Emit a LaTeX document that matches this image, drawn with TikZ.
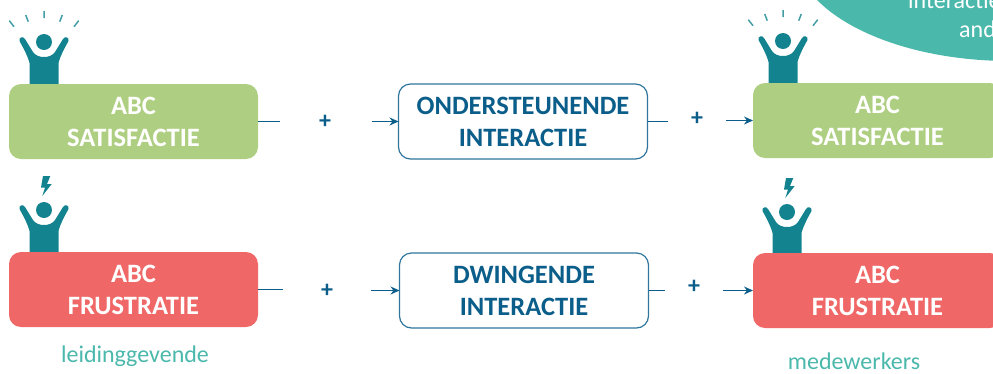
\documentclass[tikz,border=0pt]{standalone}
\usepackage{fontspec}
\setmainfont{Carlito}
\usetikzlibrary{arrows.meta}
\definecolor{satgreen}{HTML}{AECF82}
\definecolor{frusred}{HTML}{F06767}
\definecolor{interblue}{HTML}{0B5E8A}
\definecolor{personteal}{HTML}{13848F}
\definecolor{labelteal}{HTML}{4BB8AC}
\begin{document}
\begin{tikzpicture}[x=1pt,y=-1pt,
	abcbox/.style={rounded corners=12pt,minimum width=249pt,minimum height=75pt,inner sep=0,outer sep=0,align=center,text=white,font=\fontsize{26.5}{32}\selectfont\bfseries},
	interbox/.style={abcbox,draw=interblue!85!white,line width=1.2pt,fill=white,text=interblue},
	plusnode/.style={text=interblue,font=\fontsize{24}{24}\selectfont\bfseries,inner sep=0},
	staff/.style={font=\fontsize{24}{24}\selectfont,text=labelteal,inner sep=0},
	bubbletext/.style={anchor=base west,text=white,inner sep=0,font=\fontsize{24}{24}\selectfont},
	conn/.style={draw=interblue,line width=1.2pt},
	connarrow/.style={conn,-{Stealth[length=9pt,width=8pt]}},
	person/.pic={
		\fill[personteal] (0,-42) circle (8);
		\fill[personteal,line join=round] (-14.5,0) -- (-14.5,-21) .. controls (-16,-27) and (-20,-35) .. (-24.5,-43)
			.. controls (-25.5,-47) and (-20.5,-48) .. (-19,-45) -- (-11,-32) .. controls (-8,-28) and (-4,-27) .. (0,-27)
			.. controls (4,-27) and (8,-28) .. (11,-32) -- (19,-45) .. controls (20.5,-48) and (25.5,-47) .. (24.5,-43)
			.. controls (20,-35) and (16,-27) .. (14.5,-21) -- (14.5,0) -- cycle;
	},
	cheer/.pic={
		\draw[personteal!80!white,line width=1.5pt] (0,-73) -- (0,-66) (-18.3,-69) -- (-15.7,-62.3) (18.3,-69) -- (15.7,-62.3)
			(-34.7,-63.3) -- (-30,-57.3) (34.7,-63.3) -- (30,-57.3);
	},
	bolt/.pic={
		\fill[personteal] (-1,-76) -- (6.3,-76) -- (3,-68) -- (7.7,-68) -- (-1.7,-56) -- (1,-64.5) -- (-3,-64.5) -- cycle;
	}]
	\useasboundingbox (0,0) rectangle (993,373);
	\clip (0,0) rectangle (993,373);
	\fill[labelteal] (1010,-50) ellipse (216 and 111);
	\node[bubbletext] (line1) at (908,8) {interactie};
	\node[bubbletext] (line2) at (959,37) {and};
	\pic at (44,84) {person};
	\pic at (44,84) {cheer};
	\pic at (783,83) {person};
	\pic at (783,83) {cheer};
	\pic at (44,252) {person};
	\pic at (44,252) {bolt};
	\pic at (787,254) {person};
	\pic at (787,254) {bolt};
	\node[abcbox,fill=satgreen] (sat1) at (133.5,121.5) {ABC\\SATISFACTIE};
	\node[abcbox,fill=frusred] (frus1) at (133.5,289.5) {ABC\\FRUSTRATIE};
	\node[abcbox,fill=satgreen] (sat2) at (877.5,120.5) {ABC\\SATISFACTIE};
	\node[abcbox,fill=frusred] (frus2) at (877.5,290.5) {ABC\\FRUSTRATIE};
	\node[interbox] (onder) at (523,121.5) {ONDERSTEUNENDE\\INTERACTIE};
	\node[interbox] (dwing) at (524,290.5) {DWINGENDE\\INTERACTIE};
	\node[plusnode] (plus1) at (325,122) {+};
	\node[plusnode] (plus2) at (697,119) {+};
	\node[plusnode] (plus3) at (327,291) {+};
	\node[plusnode] (plus4) at (694,287) {+};
	\coordinate (a1) at (280,121.5);
	\coordinate (b1) at (372,121.5);
	\coordinate (a2) at (668,121.5);
	\coordinate (b2) at (726,120.5);
	\coordinate (a3) at (283,289.5);
	\coordinate (b3) at (371,290.5);
	\coordinate (a4) at (665,290.5);
	\coordinate (b4) at (723,290.5);
	\draw[conn] (sat1) -- (a1);
	\draw[connarrow] (b1) -- (onder);
	\draw[conn] (onder) -- (a2);
	\draw[connarrow] (b2) -- (sat2);
	\draw[conn] (frus1) -- (a3);
	\draw[connarrow] (b3) -- (dwing);
	\draw[conn] (dwing) -- (a4);
	\draw[connarrow] (b4) -- (frus2);
	\node[staff] (lead) at (135,356) {leidinggevende};
	\node[staff] (staffl) at (854,361) {medewerkers};
\end{tikzpicture}
\end{document}
